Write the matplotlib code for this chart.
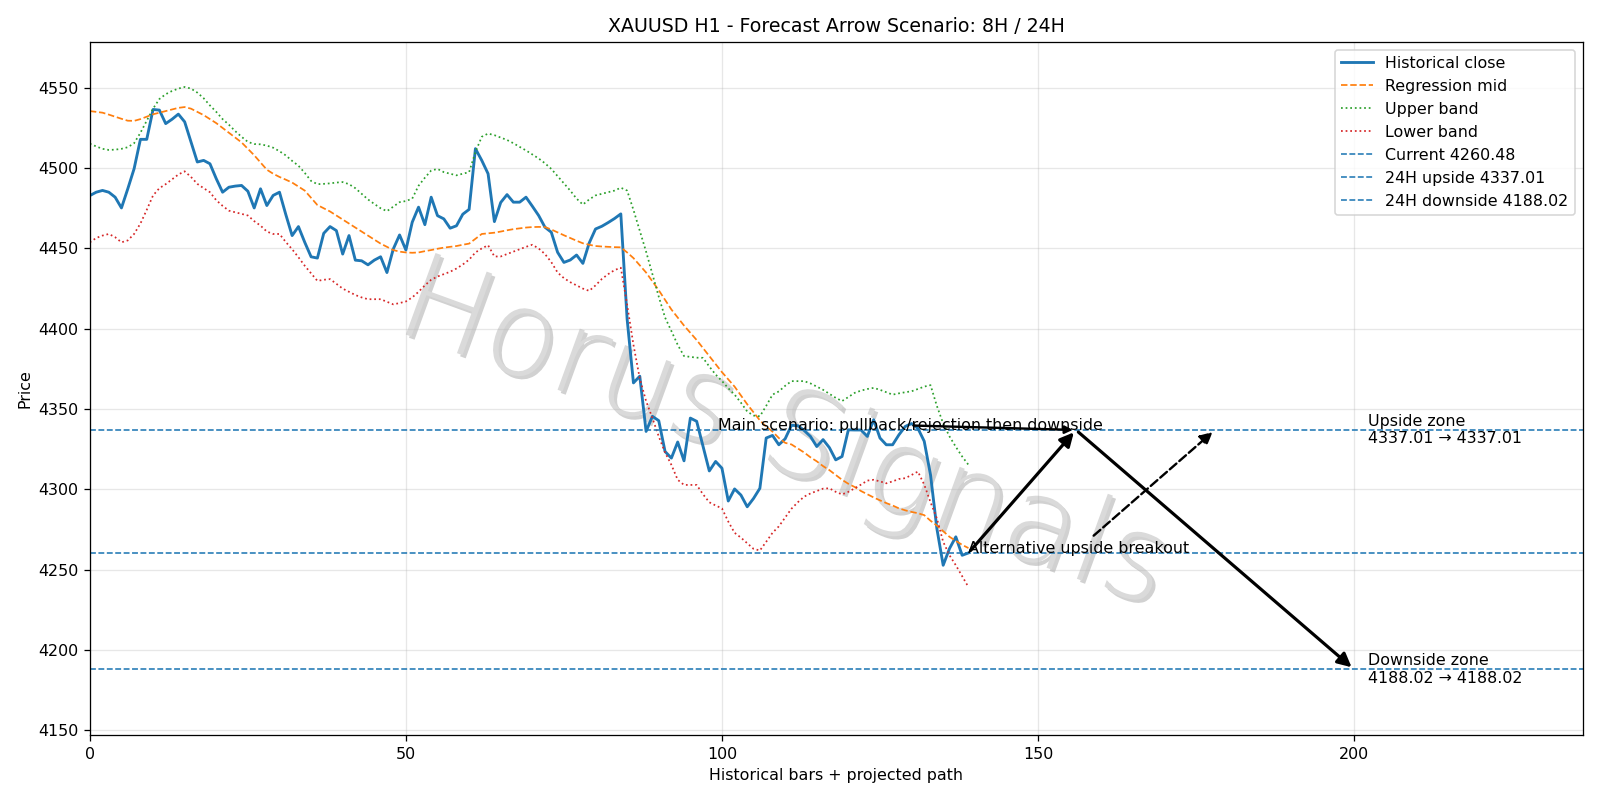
import matplotlib
matplotlib.use("Agg")
import matplotlib.pyplot as plt
import matplotlib.patheffects as pe
import numpy as np

# historical close, 140 H1 bars
close = [4482.9, 4485.0, 4486.1, 4485.0, 4481.9, 4475.2, 4487.1, 4499.6, 4517.9, 4517.9,
         4536.5, 4536.1, 4527.7, 4530.4, 4533.6, 4528.8, 4516.3, 4503.8, 4504.8, 4502.7,
         4493.4, 4485.0, 4488.1, 4488.8, 4489.2, 4485.6, 4475.2, 4487.1, 4476.7, 4483.0,
         4485.0, 4471.1, 4458.0, 4463.6, 4453.8, 4444.8, 4444.0, 4459.4, 4463.6, 4461.1,
         4446.5, 4458.0, 4442.7, 4442.3, 4439.8, 4442.7, 4444.8, 4435.0, 4449.6, 4458.4,
         4449.0, 4466.3, 4475.7, 4464.8, 4481.9, 4470.4, 4468.4, 4462.6, 4464.1, 4471.3,
         4474.3, 4512.1, 4504.8, 4496.5, 4466.7, 4478.6, 4483.5, 4478.8, 4478.8, 4481.9,
         4476.3, 4470.5, 4463.2, 4460.1, 4447.6, 4441.3, 4442.8, 4445.9, 4440.7, 4453.4,
         4462.1, 4463.8, 4466.1, 4468.6, 4471.5, 4406.0, 4366.3, 4370.5, 4336.1, 4345.5,
         4342.8, 4323.6, 4319.5, 4329.5, 4317.8, 4344.4, 4342.4, 4327.0, 4311.5, 4317.4,
         4313.2, 4292.8, 4300.3, 4296.5, 4289.2, 4294.4, 4300.7, 4332.0, 4333.6, 4327.8,
         4331.5, 4339.9, 4339.7, 4336.7, 4333.0, 4326.7, 4331.0, 4326.0, 4318.4, 4320.5,
         4337.1, 4337.0, 4337.0, 4333.0, 4343.4, 4332.0, 4327.8, 4327.8, 4334.0, 4339.2,
         4341.0, 4338.0, 4330.0, 4309.0, 4275.7, 4252.8, 4263.2, 4270.5, 4259.0, 4260.48]

reg_mid = [4535.5, 4535.0, 4534.5, 4533.3, 4532.0, 4530.7, 4529.5, 4529.4, 4530.5, 4532.0,
           4533.5, 4534.5, 4535.5, 4536.5, 4537.5, 4538.0, 4537.0, 4535.0, 4533.0, 4530.5,
           4528.0, 4525.0, 4522.0, 4519.0, 4516.0, 4512.0, 4508.0, 4503.5, 4499.0, 4496.5,
           4494.5, 4492.8, 4491.0, 4488.5, 4486.0, 4481.5, 4477.0, 4475.0, 4473.0, 4470.5,
           4468.0, 4465.5, 4463.0, 4460.5, 4458.0, 4455.5, 4453.0, 4451.0, 4449.0, 4448.0,
           4447.5, 4447.3, 4447.5, 4448.3, 4449.0, 4449.8, 4450.5, 4451.0, 4451.5, 4452.3,
           4453.0, 4456.0, 4459.0, 4459.4, 4459.8, 4460.5, 4461.3, 4462.0, 4462.5, 4463.0,
           4463.3, 4463.4, 4463.3, 4461.8, 4460.0, 4458.2, 4456.5, 4454.8, 4453.2, 4452.3,
           4451.5, 4451.2, 4451.0, 4450.8, 4450.7, 4447.5, 4444.0, 4439.5, 4435.0, 4429.5,
           4424.0, 4418.0, 4412.0, 4407.0, 4402.0, 4397.5, 4393.0, 4388.0, 4383.0, 4378.0,
           4373.0, 4368.5, 4364.0, 4358.5, 4353.0, 4348.0, 4343.0, 4339.0, 4336.0, 4332.0,
           4329.0, 4328.0, 4325.5, 4323.0, 4320.0, 4317.5, 4314.5, 4312.0, 4309.0, 4306.0,
           4303.5, 4301.5, 4299.0, 4297.0, 4295.0, 4293.2, 4291.5, 4290.0, 4288.2, 4287.0,
           4286.0, 4285.2, 4284.0, 4280.5, 4277.5, 4274.0, 4270.5, 4268.0, 4265.5, 4263.5]

upper_band = [4515.2, 4513.5, 4512.0, 4511.3, 4511.5, 4512.0, 4513.0, 4515.5, 4522.0, 4529.5,
              4537.0, 4543.0, 4546.0, 4548.0, 4549.5, 4550.5, 4549.5, 4547.0, 4543.5, 4539.0,
              4535.0, 4530.5, 4527.0, 4523.0, 4519.5, 4516.3, 4515.0, 4514.8, 4514.0, 4512.7,
              4510.5, 4507.9, 4504.5, 4501.5, 4497.0, 4492.0, 4490.0, 4490.2, 4490.5, 4491.0,
              4491.3, 4490.0, 4487.5, 4484.0, 4480.5, 4477.7, 4475.0, 4473.2, 4476.0, 4478.8,
              4479.5, 4481.0, 4489.0, 4494.0, 4498.5, 4499.5, 4497.5, 4496.5, 4495.5, 4496.5,
              4497.5, 4510.0, 4519.5, 4521.5, 4520.5, 4519.0, 4517.5, 4515.5, 4513.2, 4511.0,
              4508.5, 4506.0, 4503.0, 4499.5, 4495.0, 4490.5, 4486.0, 4481.0, 4477.3, 4480.5,
              4483.0, 4484.0, 4485.0, 4486.0, 4487.8, 4486.0, 4474.0, 4461.0, 4448.0, 4434.0,
              4420.0, 4407.0, 4398.6, 4390.0, 4383.0, 4382.5, 4382.0, 4381.9, 4376.5, 4371.5,
              4367.5, 4363.0, 4359.0, 4354.0, 4348.5, 4346.0, 4345.5, 4352.0, 4359.0, 4361.0,
              4364.5, 4367.4, 4367.4, 4367.4, 4366.0, 4364.0, 4362.0, 4359.5, 4357.0, 4355.0,
              4357.5, 4360.1, 4361.5, 4362.5, 4363.2, 4362.0, 4360.5, 4359.0, 4359.8, 4360.5,
              4361.1, 4362.5, 4364.0, 4364.9, 4352.0, 4341.0, 4333.0, 4326.5, 4320.5, 4315.3]

lower_band = [4453.8, 4456.5, 4458.0, 4459.0, 4457.0, 4453.8, 4455.0, 4459.0, 4465.5, 4474.0,
              4483.0, 4487.5, 4490.0, 4493.0, 4496.0, 4498.0, 4494.5, 4490.2, 4487.5, 4485.0,
              4480.0, 4476.5, 4473.5, 4472.5, 4471.5, 4470.5, 4467.0, 4464.2, 4460.5, 4459.0,
              4459.0, 4454.0, 4449.5, 4444.5, 4439.2, 4434.5, 4429.8, 4430.5, 4430.9, 4428.0,
              4425.0, 4423.0, 4421.0, 4419.5, 4418.4, 4418.4, 4418.4, 4416.8, 4415.2, 4416.0,
              4417.0, 4419.5, 4423.0, 4427.0, 4430.5, 4432.5, 4434.0, 4435.5, 4437.5, 4440.0,
              4443.0, 4447.5, 4450.0, 4452.0, 4445.0, 4445.0, 4446.5, 4448.0, 4449.5, 4451.0,
              4452.3, 4450.0, 4446.5, 4441.5, 4435.0, 4431.5, 4429.0, 4427.0, 4425.0, 4423.6,
              4427.0, 4431.0, 4434.0, 4436.5, 4438.0, 4415.0, 4390.0, 4369.0, 4355.0, 4344.4,
              4333.0, 4323.0, 4315.3, 4306.0, 4302.8, 4302.8, 4302.8, 4297.0, 4292.0, 4290.0,
              4288.2, 4280.0, 4273.0, 4270.0, 4266.5, 4263.0, 4262.0, 4267.4, 4273.0, 4277.0,
              4282.5, 4288.0, 4292.0, 4295.5, 4297.5, 4299.0, 4300.5, 4300.7, 4298.5, 4296.9,
              4298.5, 4300.7, 4303.0, 4305.5, 4306.0, 4305.0, 4303.8, 4305.0, 4306.5, 4307.0,
              4309.0, 4311.1, 4303.0, 4292.0, 4282.0, 4267.4, 4259.0, 4252.8, 4246.0, 4239.2]

current = 4260.48
up_24h = 4337.01
down_24h = 4188.02

# projected path (bar index)
x_now = 139
x_8h = 156
x_24h = 200
x_alt = 178

x = np.arange(len(close))

fig, ax = plt.subplots(figsize=(14, 7), dpi=1600 / 14)

# watermark
ax.text(0.465, 0.43, "Horus Signals", transform=ax.transAxes, fontsize=75,
        fontweight="light", rotation=-20, ha="center", va="center",
        color="#dadada", zorder=0,
        path_effects=[pe.withSimplePatchShadow(offset=(2, -2), shadow_rgbFace="#8c8c8c",
                                               alpha=0.4)])

ax.plot(x, close, color="tab:blue", lw=1.8, label="Historical close")
ax.plot(x, reg_mid, color="tab:orange", ls="--", lw=1.1, label="Regression mid")
ax.plot(x, upper_band, color="tab:green", ls=":", lw=1.1, label="Upper band")
ax.plot(x, lower_band, color="tab:red", ls=":", lw=1.1, label="Lower band")

ax.axhline(current, color="tab:blue", ls="--", lw=1, label=f"Current {current:.2f}")
ax.axhline(up_24h, color="tab:blue", ls="--", lw=1, label=f"24H upside {up_24h:.2f}")
ax.axhline(down_24h, color="tab:blue", ls="--", lw=1, label=f"24H downside {down_24h:.2f}")

# main scenario arrows
ax.annotate("", xy=(x_8h, up_24h), xytext=(x_now, current),
            arrowprops=dict(arrowstyle="-|>", color="black", lw=2, mutation_scale=18))
ax.annotate("", xy=(x_24h, down_24h), xytext=(x_8h, up_24h),
            arrowprops=dict(arrowstyle="-|>", color="black", lw=2, mutation_scale=18))
ax.annotate("Main scenario: pullback/rejection then downside", xy=(x_8h, up_24h),
            xytext=(129.8, up_24h), ha="center",
            arrowprops=dict(arrowstyle="-|>", color="black", lw=1.5))
ax.annotate("Alternative upside breakout", xy=(x_alt, up_24h), xytext=(x_now, current),
            ha="left",
            arrowprops=dict(arrowstyle="-|>", color="black", lw=1.5, ls="--",
                            mutation_scale=16))

ax.text(202.2, up_24h, f"Upside zone\n{up_24h:.2f} → {up_24h:.2f}", va="center")
ax.text(202.2, down_24h, f"Downside zone\n{down_24h:.2f} → {down_24h:.2f}", va="center")

ax.set_xlim(0, 236.2)
ax.set_ylim(4146.9, 4578.7)
ax.set_title("XAUUSD H1 - Forecast Arrow Scenario: 8H / 24H")
ax.set_xlabel("Historical bars + projected path")
ax.set_ylabel("Price")
ax.grid(True, alpha=0.3)
ax.legend(loc="upper right")

fig.tight_layout()
fig.savefig("out.png", dpi=1600 / 14)
